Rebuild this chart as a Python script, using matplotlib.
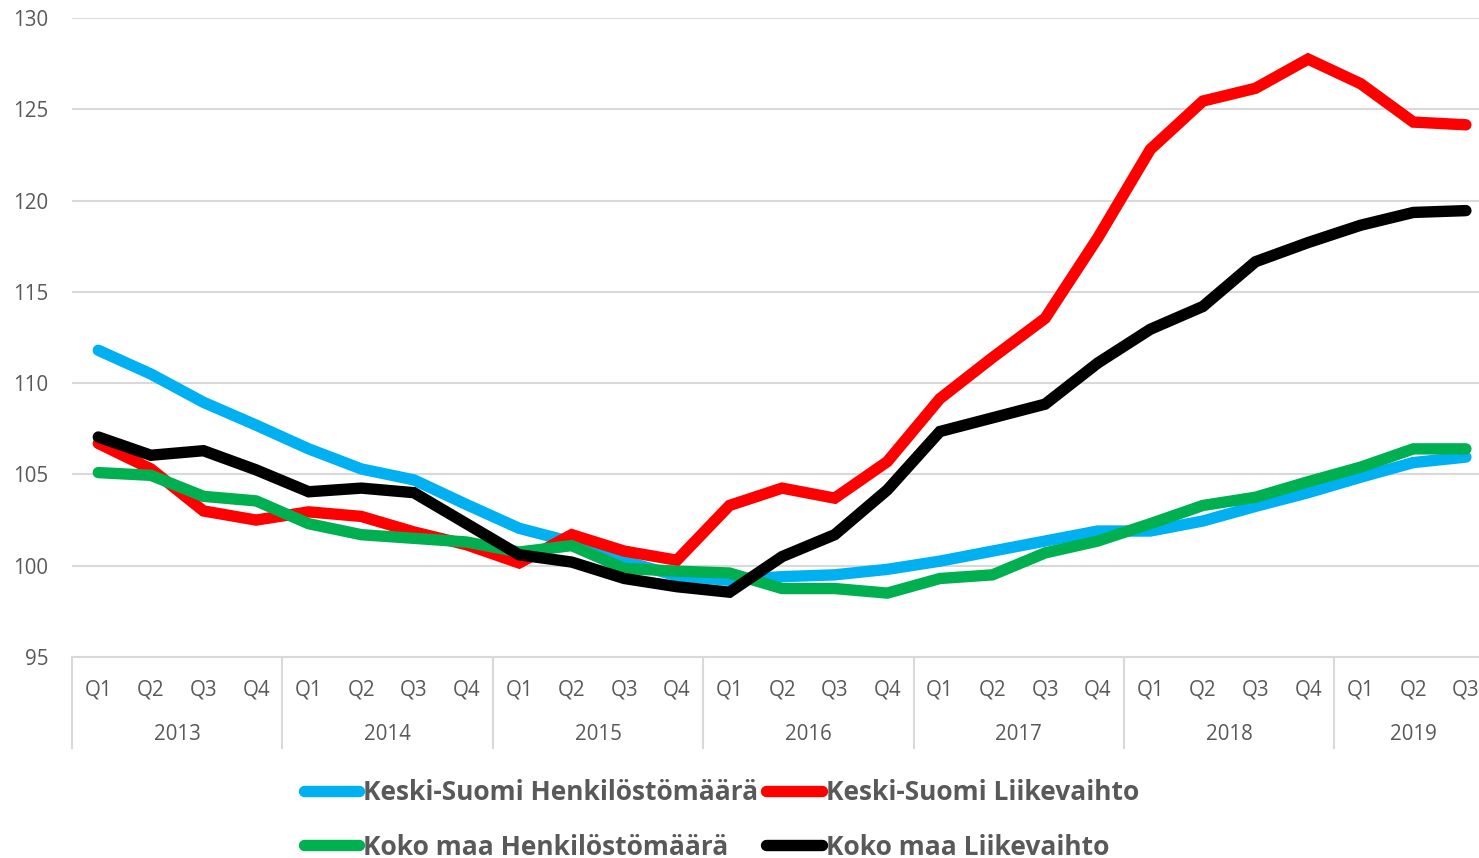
import matplotlib
matplotlib.use("Agg")
import matplotlib.pyplot as plt
import matplotlib.transforms as mtransforms

plt.rcParams['font.family'] = ['Open Sans', 'DejaVu Sans']

years = ["2013", "2014", "2015", "2016", "2017", "2018", "2019"]
quarters_per_year = [4, 4, 4, 4, 4, 4, 3]
quarter_names = ["Q1", "Q2", "Q3", "Q4"]

ks_henkilosto = [111.8, 110.5, 108.95, 107.7, 106.4, 105.3, 104.7, 103.35, 102.05,
                 101.3, 100.25, 99.45, 99.2, 99.4, 99.5, 99.8, 100.25, 100.8, 101.35,
                 101.9, 101.9, 102.45, 103.25, 104.0, 104.85, 105.65, 105.95]
ks_liikevaihto = [106.7, 105.3, 103.0, 102.5, 102.95, 102.7, 101.85, 101.15, 100.15,
                  101.7, 100.8, 100.3, 103.3, 104.25, 103.7, 105.7, 109.15, 111.4, 113.55,
                  117.95, 122.8, 125.45, 126.15, 127.75, 126.4, 124.3, 124.15]
km_henkilosto = [105.1, 104.95, 103.8, 103.55, 102.3, 101.7, 101.5, 101.3, 100.75,
                 101.1, 99.85, 99.7, 99.6, 98.75, 98.75, 98.5, 99.3, 99.5, 100.7,
                 101.35, 102.3, 103.3, 103.75, 104.6, 105.4, 106.4, 106.4]
km_liikevaihto = [107.05, 106.05, 106.3, 105.25, 104.05, 104.25, 104.0, 102.3, 100.6,
                  100.2, 99.3, 98.85, 98.55, 100.5, 101.7, 104.15, 107.35, 108.1, 108.85,
                  111.1, 112.95, 114.2, 116.65, 117.7, 118.65, 119.35, 119.45]

series = [
    ("Keski-Suomi Henkilöstömäärä", ks_henkilosto, "#00B0F0"),
    ("Keski-Suomi Liikevaihto", ks_liikevaihto, "#FF0000"),
    ("Koko maa Henkilöstömäärä", km_henkilosto, "#00B050"),
    ("Koko maa Liikevaihto", km_liikevaihto, "#000000"),
]

text_color = "#595959"
grid_color = "#D9D9D9"

tick_labels = []
for n in quarters_per_year:
    tick_labels += quarter_names[:n]
x = list(range(len(tick_labels)))

fig = plt.figure(figsize=(14.79, 8.58), dpi=100)
ax = fig.add_axes([72 / 1479, 201 / 858, 27 * 52.6 / 1479, 639 / 858])

lines = {}
for name, values, color in series:
    ln, = ax.plot(x, values, color=color, lw=8.2, solid_capstyle="round",
                  solid_joinstyle="miter", label=name, zorder=3)
    lines[name] = ln

ax.set_xlim(-0.5, len(x) - 0.5)
ax.set_ylim(95, 130)
ax.set_yticks(range(95, 131, 5))
ax.grid(axis="y", color=grid_color, lw=1.5, zorder=0)
for s in ["top", "right", "left"]:
    ax.spines[s].set_visible(False)
ax.spines["bottom"].set_color(grid_color)
ax.spines["bottom"].set_linewidth(1.5)

ax.set_xticks(x)
ax.set_xticklabels(tick_labels)
ax.tick_params(axis="x", length=0, pad=16.5, labelsize=14.8, labelcolor=text_color)
ax.tick_params(axis="y", length=0, pad=17, labelsize=14.8, labelcolor=text_color)

# year labels and group separators below the axis
trans = mtransforms.blended_transform_factory(ax.transData, ax.transAxes)
sep_len = 91 / 639
start = 0
for year, n in zip(years, quarters_per_year):
    center = start + (n - 1) / 2
    ax.text(center, -78 / 639, year, transform=trans, ha="center", va="center",
            fontsize=14.8, color=text_color)
    ax.plot([start - 0.5, start - 0.5], [0, -sep_len], transform=trans,
            color=grid_color, lw=1.5, clip_on=False)
    start += n

order = ["Keski-Suomi Henkilöstömäärä", "Koko maa Henkilöstömäärä",
         "Keski-Suomi Liikevaihto", "Koko maa Liikevaihto"]
leg = fig.legend([lines[n] for n in order], order, ncol=2, loc="upper left",
                 bbox_to_anchor=(304 / 1479, 1 - 779 / 858), frameon=False,
                 prop={"size": 19, "weight": "bold"}, handlelength=2.1,
                 handletextpad=0.15, columnspacing=0.3, labelspacing=1.05,
                 borderpad=0, borderaxespad=0)
for t in leg.get_texts():
    t.set_color(text_color)

fig.savefig("out.png", dpi=100)
